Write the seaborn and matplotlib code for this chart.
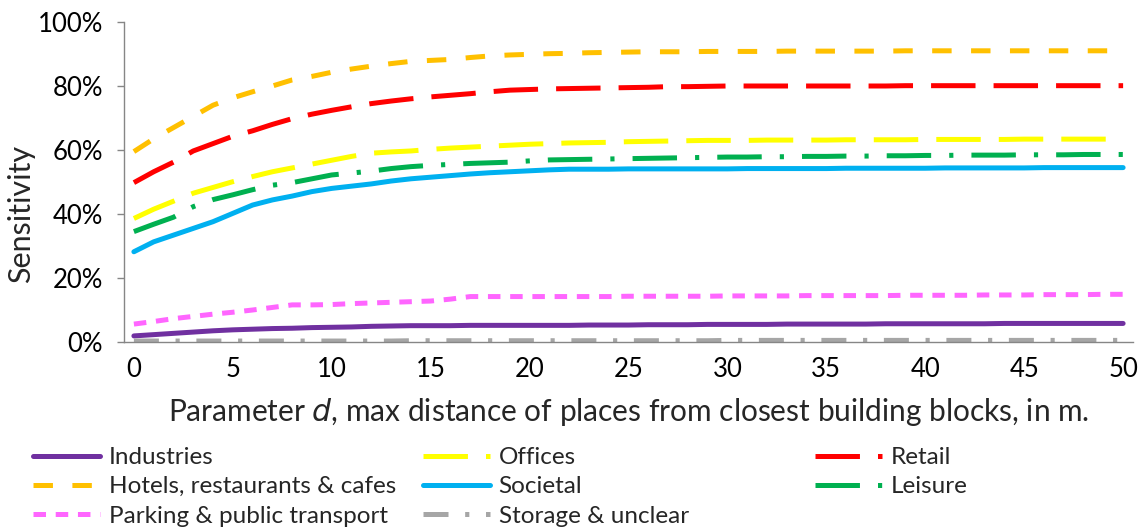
import matplotlib
matplotlib.use("Agg")
import matplotlib.pyplot as plt
import seaborn as sns
import numpy as np
import pandas as pd
from matplotlib.ticker import PercentFormatter

# ---------------- data ----------------
d = list(range(0, 51))

industries = [1.9, 2.3, 2.7, 3.1, 3.5, 3.8, 4.0, 4.2, 4.3, 4.5,
              4.6, 4.7, 4.9, 5.0, 5.1, 5.1, 5.1, 5.2, 5.2, 5.2,
              5.2, 5.2, 5.2, 5.3, 5.3, 5.3, 5.4, 5.4, 5.4, 5.5,
              5.5, 5.5, 5.5, 5.6, 5.6, 5.6, 5.6, 5.6, 5.7, 5.7,
              5.7, 5.7, 5.7, 5.7, 5.8, 5.8, 5.8, 5.8, 5.8, 5.8, 5.8]
offices = [38.6, 41.5, 44.0, 46.5, 48.3, 50.1, 51.7, 53.2, 54.4, 55.6,
           56.8, 58.0, 59.0, 59.4, 59.7, 60.2, 60.6, 60.9, 61.2, 61.5,
           61.8, 62.0, 62.2, 62.3, 62.4, 62.6, 62.7, 62.8, 62.9, 63.0,
           63.0, 63.0, 63.1, 63.1, 63.1, 63.1, 63.2, 63.2, 63.2, 63.2,
           63.3, 63.3, 63.3, 63.3, 63.3, 63.4, 63.4, 63.4, 63.4, 63.4, 63.4]
retail = [49.8, 53.2, 56.2, 59.7, 62.0, 64.3, 66.0, 68.0, 69.8, 71.2,
          72.4, 73.5, 74.5, 75.3, 76.0, 76.6, 77.1, 77.6, 78.2, 78.7,
          78.9, 79.1, 79.2, 79.3, 79.4, 79.5, 79.6, 79.8, 79.8, 79.9,
          80.0, 80.0, 80.0, 80.0, 80.0, 80.0, 80.0, 80.0, 80.0, 80.1,
          80.1, 80.1, 80.1, 80.1, 80.1, 80.1, 80.1, 80.1, 80.1, 80.1, 80.1]
hotels = [59.5, 63.5, 67.0, 70.5, 74.0, 76.3, 78.2, 80.0, 81.9, 83.0,
          84.3, 85.3, 86.2, 87.0, 87.7, 88.0, 88.3, 88.9, 89.4, 89.7,
          89.9, 90.1, 90.2, 90.4, 90.5, 90.6, 90.7, 90.7, 90.7, 90.8,
          90.8, 90.8, 90.8, 90.9, 90.9, 90.9, 90.9, 90.9, 90.9, 91.0,
          91.0, 91.0, 91.0, 91.0, 91.0, 91.0, 91.0, 91.0, 91.0, 91.0, 91.0]
societal = [28.2, 31.3, 33.4, 35.5, 37.6, 40.2, 42.8, 44.4, 45.6, 47.0,
            48.0, 48.7, 49.4, 50.3, 51.0, 51.5, 52.0, 52.5, 52.9, 53.2,
            53.5, 53.8, 54.0, 54.0, 54.0, 54.1, 54.1, 54.1, 54.1, 54.1,
            54.1, 54.2, 54.2, 54.2, 54.2, 54.2, 54.3, 54.3, 54.3, 54.3,
            54.3, 54.4, 54.4, 54.4, 54.4, 54.4, 54.5, 54.5, 54.5, 54.5, 54.5]
leisure = [34.5, 36.8, 39.0, 42.3, 44.5, 46.0, 47.6, 49.0, 49.8, 51.0,
           52.2, 52.8, 53.4, 54.2, 54.8, 55.2, 55.5, 55.8, 56.0, 56.2,
           56.6, 56.9, 57.0, 57.1, 57.2, 57.3, 57.4, 57.5, 57.6, 57.7,
           57.8, 57.8, 57.9, 57.9, 58.0, 58.0, 58.1, 58.1, 58.2, 58.2,
           58.3, 58.3, 58.4, 58.4, 58.4, 58.5, 58.5, 58.5, 58.6, 58.6, 58.6]
parking = [5.6, 6.4, 7.3, 8.0, 8.7, 9.3, 10.0, 10.8, 11.6, 11.6,
           11.7, 12.0, 12.2, 12.4, 12.6, 12.8, 13.4, 14.2, 14.2, 14.2,
           14.2, 14.2, 14.2, 14.2, 14.2, 14.3, 14.3, 14.3, 14.3, 14.3,
           14.4, 14.4, 14.4, 14.4, 14.5, 14.5, 14.5, 14.5, 14.5, 14.6,
           14.6, 14.6, 14.6, 14.7, 14.7, 14.7, 14.8, 14.8, 14.8, 14.9, 14.9]
storage = [0.3, 0.3, 0.3, 0.3, 0.3, 0.3, 0.3, 0.3, 0.3, 0.3,
           0.3, 0.3, 0.3, 0.3, 0.4, 0.4, 0.4, 0.4, 0.4, 0.4,
           0.4, 0.4, 0.4, 0.4, 0.4, 0.4, 0.4, 0.4, 0.4, 0.4,
           0.5, 0.5, 0.5, 0.5, 0.5, 0.5, 0.5, 0.5, 0.5, 0.5,
           0.5, 0.5, 0.5, 0.5, 0.5, 0.5, 0.5, 0.5, 0.5, 0.5, 0.5]

names = ["Industries", "Offices", "Retail", "Hotels, restaurants & cafes",
         "Societal", "Leisure", "Parking & public transport", "Storage & unclear"]
series = [industries, offices, retail, hotels, societal, leisure, parking, storage]

y_ticks = [0, 20, 40, 60, 80, 100]
x_ticks = [0, 5, 10, 15, 20, 25, 30, 35, 40, 45, 50]

# ---------------- style ----------------
colors = {
    "Industries": "#7030A0",
    "Offices": "#FFFF00",
    "Retail": "#FF0000",
    "Hotels, restaurants & cafes": "#FFC000",
    "Societal": "#00B0F0",
    "Leisure": "#00B050",
    "Parking & public transport": "#FF66FF",
    "Storage & unclear": "#A6A6A6",
}
styles = {
    "Industries": "-",
    "Offices": (0, (32, 13)),
    "Retail": (0, (32, 13)),
    "Hotels, restaurants & cafes": (0, (14, 14)),
    "Societal": "-",
    "Leisure": (0, (32, 13, 3, 13)),
    "Parking & public transport": (0, (9, 7)),
    "Storage & unclear": (0, (18, 12, 3, 12)),
}

sns.set_theme(style="white")
plt.rcParams["font.family"] = ["Lato", "DejaVu Sans"]
plt.rcParams["lines.scale_dashes"] = False

W, H = 1143, 530
fig = plt.figure(figsize=(W / 100, H / 100), dpi=100)
ax = fig.add_axes([124 / W, (H - 342) / H, (1133 - 124) / W, (342 - 22) / H])

lw = 3.6
for name, vals in zip(names, series):
    sns.lineplot(x=d, y=vals, ax=ax, color=colors[name], linewidth=lw,
                 linestyle=styles[name], label=name, legend=False,
                 dash_capstyle="butt", solid_capstyle="round")

ax.set_xlim(-0.5, 50.5)
ax.set_ylim(0, 100)
ax.set_xticks(x_ticks)
ax.set_yticks(y_ticks)
ax.yaxis.set_major_formatter(PercentFormatter(100, decimals=0))
for s in ["top", "right"]:
    ax.spines[s].set_visible(False)
for s in ["left", "bottom"]:
    ax.spines[s].set_color("#868686")
    ax.spines[s].set_linewidth(1.0)
ax.tick_params(axis="y", length=5, width=1, color="#868686", labelsize=18.5,
               labelcolor="#000000", pad=10, left=True)
ax.tick_params(axis="x", length=0, labelsize=18.5, labelcolor="#000000", pad=11)
ax.set_xlabel("Parameter $\\it{d}$, max distance of places from closest building blocks, in m.",
              fontsize=21.5, labelpad=10)
ax.set_ylabel("Sensitivity", fontsize=22)
ax.yaxis.set_label_coords((35 - 124) / (1133 - 124), (342 - 214) / 320)
ax.grid(False)

handles, labels = ax.get_legend_handles_labels()
hmap = dict(zip(labels, handles))
cols = [
    (["Industries", "Hotels, restaurants & cafes", "Parking & public transport"], 33),
    (["Offices", "Societal", "Storage & unclear"], 423),
    (["Retail", "Leisure"], 815),
]
fs_leg = 17.5
for labs, xpx in cols:
    fig.legend([hmap[l] for l in labs], labs, loc="upper left",
               bbox_to_anchor=(xpx / W, (H - 447) / H), frameon=False,
               fontsize=fs_leg, handlelength=48 / fs_leg, handletextpad=6.5 / fs_leg,
               labelspacing=0.34, borderpad=0, borderaxespad=0)

fig.savefig("out.png", dpi=100)
